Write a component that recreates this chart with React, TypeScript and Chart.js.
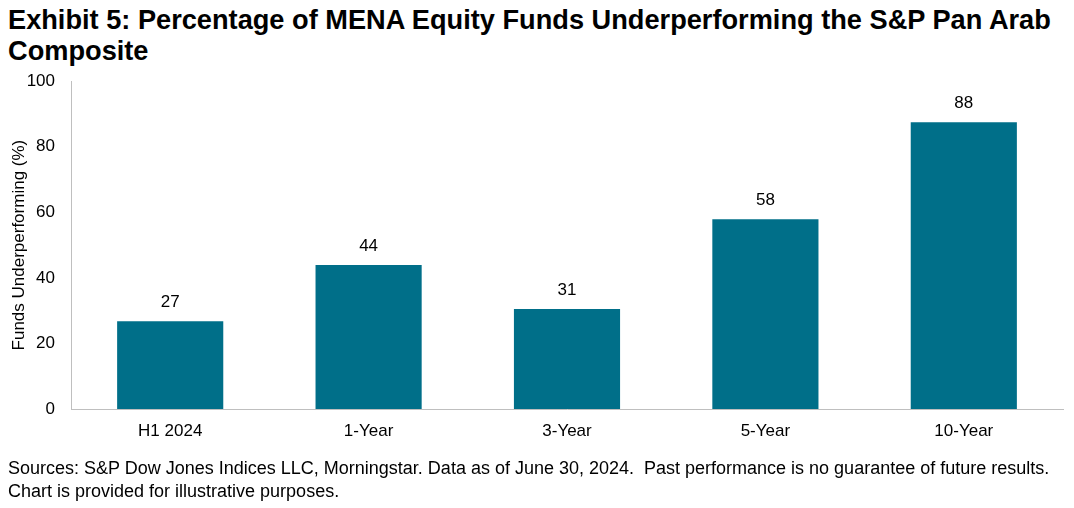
import React, { useEffect, useRef } from "react";
import { Chart, registerables } from "chart.js";

Chart.register(...registerables);

const categories = ["H1 2024", "1-Year", "3-Year", "5-Year", "10-Year"];
const values = [26.8, 43.9, 30.5, 57.9, 87.5];
const valueLabels = ["27", "44", "31", "58", "88"];
const yTicks = [0, 20, 40, 60, 80, 100];

const FONT = "'Liberation Sans', Arial, sans-serif";

const labelPlugin = {
  id: "valueLabels",
  afterDatasetsDraw(chart: any) {
    const ctx = chart.ctx;
    const meta = chart.getDatasetMeta(0);
    ctx.save();
    ctx.font = `17px ${FONT}`;
    ctx.fillStyle = "#000";
    ctx.textAlign = "center";
    ctx.textBaseline = "bottom";
    meta.data.forEach((bar: any, i: number) => {
      ctx.fillText(valueLabels[i], bar.x, bar.y - 10);
    });
    ctx.restore();
  },
};

export default function App() {
  const ref = useRef<HTMLCanvasElement | null>(null);
  useEffect(() => {
    if (!ref.current) return;
    const chart = new Chart(ref.current, {
      type: "bar",
      data: {
        labels: categories,
        datasets: [
          {
            data: values,
            backgroundColor: "#006F89",
            categoryPercentage: 0.535,
            barPercentage: 1,
          },
        ],
      },
      options: {
        animation: false,
        responsive: false,
        maintainAspectRatio: false,
        layout: { padding: { left: 9, right: 11, top: 8, bottom: 0 } },
        plugins: { legend: { display: false }, tooltip: { enabled: false } },
        scales: {
          x: {
            grid: { display: false, drawTicks: false },
            border: { display: true, color: "#BFBFBF", width: 1 },
            ticks: { color: "#000", font: { family: FONT, size: 17 }, padding: 12 },
            afterFit: (scale: any) => {
              scale.height = 52;
            },
          },
          y: {
            min: 0,
            max: 100,
            afterBuildTicks: (axis: any) => {
              axis.ticks = yTicks.map((v) => ({ value: v }));
            },
            afterFit: (scale: any) => {
              scale.width = 62;
            },
            grid: { display: false, drawTicks: false },
            border: { display: true, color: "#BFBFBF", width: 1 },
            ticks: { color: "#000", font: { family: FONT, size: 17 }, padding: 16 },
            title: {
              display: true,
              text: "Funds Underperforming (%)",
              color: "#000",
              font: { family: FONT, size: 17 },
              padding: { top: 0, bottom: 0 },
            },
          },
        },
      },
      plugins: [labelPlugin],
    });
    return () => chart.destroy();
  }, []);

  return (
    <div style={{ position: "absolute", left: 0, top: 0, width: 1074, height: 508, background: "#fff", fontFamily: FONT }}>
      <div style={{ position: "absolute", left: 8, top: 4, fontSize: 27.2, fontWeight: "bold", lineHeight: "31px", color: "#000", width: 1066, whiteSpace: "nowrap" }}>
        Exhibit 5: Percentage of MENA Equity Funds Underperforming the S&amp;P Pan Arab
        <br />
        Composite
      </div>
      <canvas ref={ref} width={1074} height={406} style={{ position: "absolute", left: 0, top: 55, width: 1074, height: 406 }} />
      <div style={{ position: "absolute", left: 8, top: 457, fontSize: 18, lineHeight: "23px", color: "#000", whiteSpace: "nowrap" }}>
        Sources: S&amp;P Dow Jones Indices LLC, Morningstar. Data as of June 30, 2024.&nbsp; Past performance is no guarantee of future results.
        <br />
        Chart is provided for illustrative purposes.
      </div>
    </div>
  );
}
